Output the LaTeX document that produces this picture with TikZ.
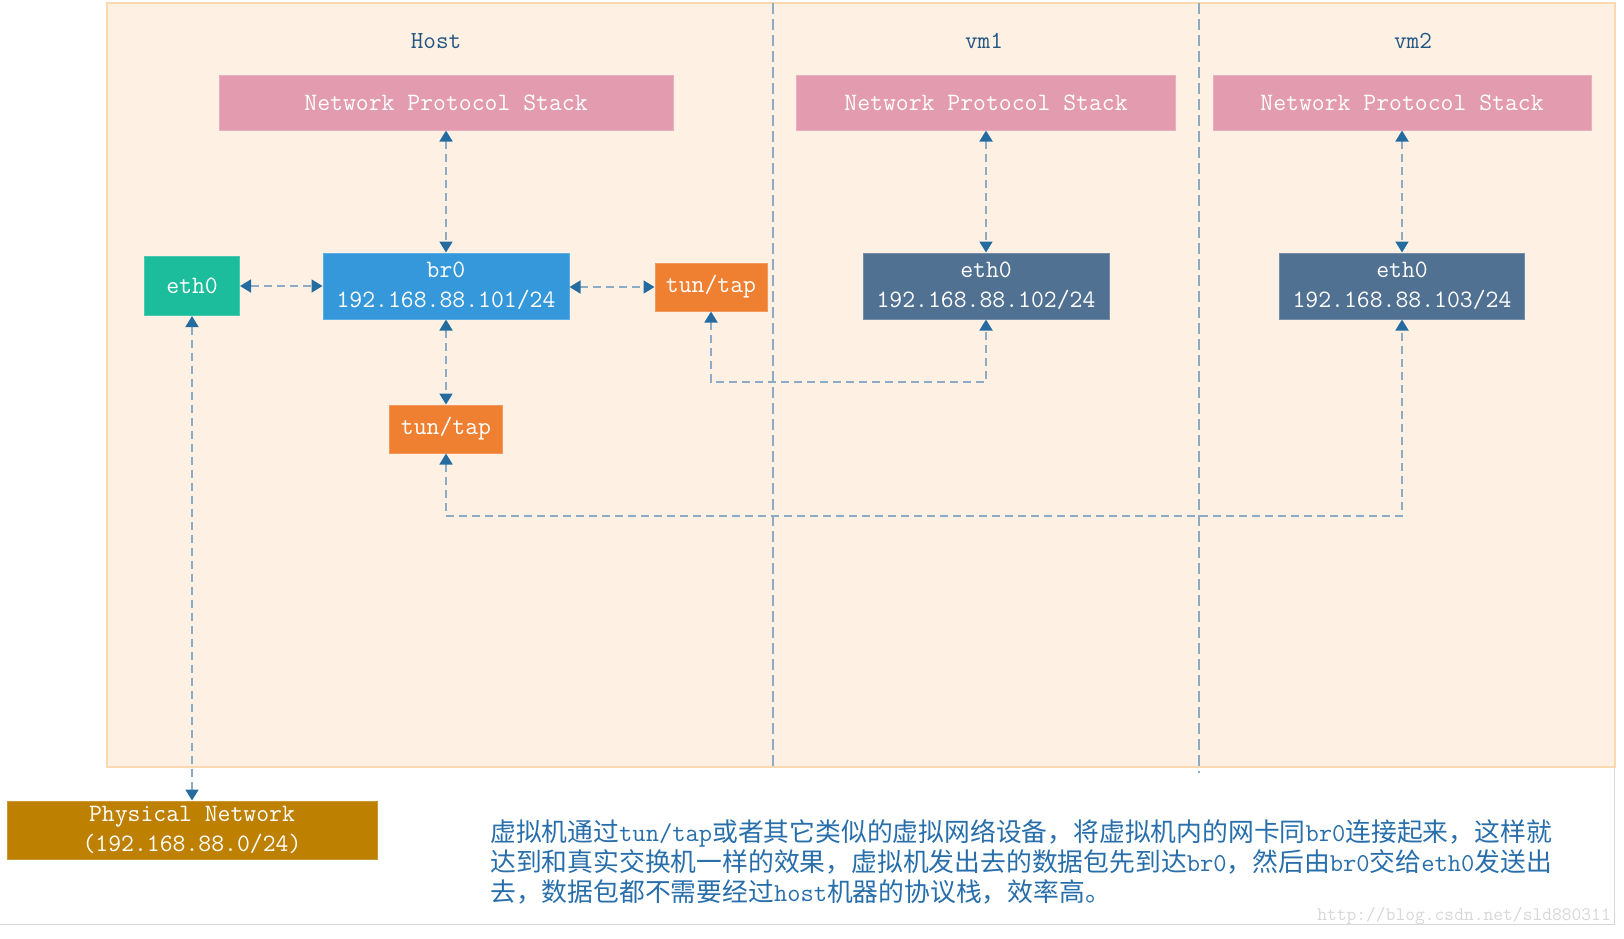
\documentclass[tikz,border=0pt]{standalone}
\usepackage{fontspec}
\newfontfamily\cjk{Noto Sans CJK SC}
\usetikzlibrary{arrows.meta}

\definecolor{bgpanel}{RGB}{254,241,228}
\definecolor{bgedge}{RGB}{251,217,176}
\definecolor{npspink}{RGB}{226,155,175}
\definecolor{ethgreen}{RGB}{28,189,156}
\definecolor{brblue}{RGB}{53,152,219}
\definecolor{taporange}{RGB}{239,128,50}
\definecolor{vmslate}{RGB}{81,113,146}
\definecolor{physgold}{RGB}{190,128,0}
\definecolor{linegray}{RGB}{140,172,198}
\definecolor{tipblue}{RGB}{36,108,160}
\definecolor{labelblue}{RGB}{35,85,130}
\definecolor{noteblue}{RGB}{40,110,170}
\definecolor{framegray}{RGB}{215,215,215}

\tikzset{
  box/.style={rectangle, inner sep=0pt, line width=1pt, text=white, align=center,
    font=\ttfamily\fontsize{25}{30}\selectfont},
  zone/.style={text=labelblue, font=\ttfamily\fontsize{24.5}{28}\selectfont},
  link/.style={draw=linegray, line width=1.8pt, dash pattern=on 8pt off 5pt,
    {Triangle[length=11pt,width=13pt,color=tipblue]}-{Triangle[length=11pt,width=13pt,color=tipblue]}},
  divider/.style={draw=linegray, line width=1.5pt, dash pattern=on 11pt off 5pt}
}

\begin{document}
\begin{tikzpicture}[x=1pt,y=1pt,yscale=-1]
  \useasboundingbox (0,0) rectangle (1624,938);

  %Shape: Panel
  \draw [fill=bgpanel, draw=bgedge, line width=2pt] (107,3) rectangle (1615,767);
  \draw [framegray, line width=1pt] (0,924) -- (1614,924) -- (1614,768);
  %Straight Lines: dividers
  \draw [divider] (773,3) -- (773,767);
  \draw [divider] (1199,3) -- (1199,773);

  % Text Node
  \node [zone] (hostlbl) at (436,41) {Host};
  \node [zone] (vm1lbl) at (984,41) {vm1};
  \node [zone] (vm2lbl) at (1413,41) {vm2};

  %Shape: Rectangle
  \node [box, fill=npspink, draw=npspink!80!white, minimum width=454pt, minimum height=55pt] (hostnps) at (446,102.5) {Network Protocol Stack};
  \node [box, fill=npspink, draw=npspink!80!white, minimum width=379pt, minimum height=55pt] (vm1nps) at (986,102.5) {Network Protocol Stack};
  \node [box, fill=npspink, draw=npspink!80!white, minimum width=378pt, minimum height=55pt] (vm2nps) at (1402,102.5) {Network Protocol Stack};

  \node [box, fill=ethgreen, draw=ethgreen!80!white, minimum width=95pt, minimum height=59pt] (eth0) at (192,286) {eth0};
  \node [box, fill=brblue, draw=brblue!80!white, minimum width=246pt, minimum height=66pt] (br0) at (446,286) {br0\\192.168.88.101/24};
  \node [box, fill=taporange, draw=taporange!80!white, minimum width=112pt, minimum height=48pt] (taptop) at (711,287) {tun/tap};
  \node [box, fill=vmslate, draw=vmslate!80!white, minimum width=246pt, minimum height=66pt] (vm1eth) at (986,286) {eth0\\192.168.88.102/24};
  \node [box, fill=vmslate, draw=vmslate!80!white, minimum width=245pt, minimum height=66pt] (vm2eth) at (1402,286) {eth0\\192.168.88.103/24};
  \node [box, fill=taporange, draw=taporange!80!white, minimum width=113pt, minimum height=48pt] (tapbot) at (446,429) {tun/tap};
  \node [box, fill=physgold, draw=physgold!80!white, minimum width=370pt, minimum height=58pt] (phys) at (192,830) {Physical Network\\(192.168.88.0/24)};

  %Connectors
  \coordinate (route1) at (0,382);
  \coordinate (route2) at (0,516);
  \draw [link] (hostnps) -- (br0);
  \draw [link] (vm1nps) -- (vm1eth);
  \draw [link] (vm2nps) -- (vm2eth);
  \draw [link] (eth0.east) -- (br0.west |- eth0.east);
  \draw [link] (br0.east |- taptop.west) -- (taptop.west);
  \draw [link] (br0) -- (tapbot);
  \draw [link] (eth0) -- (phys);
  \draw [link] (taptop.south) -- (taptop.south |- route1) -| (vm1eth.south);
  \draw [link] (tapbot.south) -- (tapbot.south |- route2) -| (vm2eth.south);

  % Text Node
  \node [anchor=west, inner sep=0pt, align=left, text=noteblue, font=\cjk\fontsize{25.8}{30}\selectfont] (note) at (490,862)
    {虚拟机通过{\ttfamily tun/tap}或者其它类似的虚拟网络设备，将虚拟机内的网卡同{\ttfamily br0}连接起来，这样就\\
     达到和真实交换机一样的效果，虚拟机发出去的数据包先到达{\ttfamily br0}，然后由{\ttfamily br0}交给{\ttfamily eth0}发送出\\
     去，数据包都不需要经过{\ttfamily host}机器的协议栈，效率高。};
  \node [anchor=east, inner sep=0pt, text=framegray, font=\ttfamily\fontsize{19}{22}\selectfont] (mark) at (1611,916) {http://blog.csdn.net/sld880311};
\end{tikzpicture}
\end{document}
